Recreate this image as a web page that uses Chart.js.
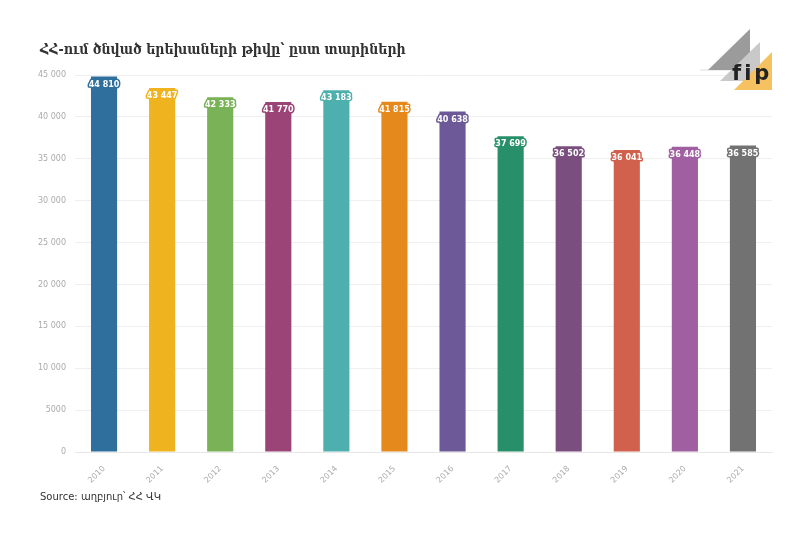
<!DOCTYPE html>
<html>
<head>
<meta charset="utf-8">
<script src="https://cdn.jsdelivr.net/npm/chart.js@4/dist/chart.umd.min.js"></script>
<style>
  html, body { margin: 0; padding: 0; background: #fff; }
  #wrap { position: absolute; left: 0; top: 0; width: 800px; height: 541px; }
  #title { position: absolute; left: 40px; top: 41px; font: bold 14px "DejaVu Serif Condensed", "DejaVu Serif", serif; color: #333; }
  #source { position: absolute; left: 40px; top: 491px; font: 10px "DejaVu Sans", sans-serif; color: #333; }
  #logo { position: absolute; left: 700px; top: 24px; }
</style>
</head>
<body>
<div id="wrap"><canvas id="chart"></canvas></div>
<div id="title">ՀՀ-ում ծնված երեխաների թիվը՝ ըստ տարիների</div>
<div id="source">Source: աղբյուր՝ ՀՀ ՎԿ</div>
<svg id="logo" width="80" height="70">
  <line x1="0" y1="46" x2="30" y2="46" stroke="#ddd" stroke-width="1"/>
  <polygon points="8,46 50,5 50,46" fill="#9b9b9b"/>
  <polygon points="20,57 60,18 60,57" fill="#c9c9c9"/>
  <polygon points="34,66 72,28 72,66" fill="#f6c160"/>
  <text x="32" y="56" font-family="DejaVu Sans" font-weight="bold" font-size="21" letter-spacing="3" fill="#222">fip</text>
</svg>
<script>
const years = ["2010", "2011", "2012", "2013", "2014", "2015", "2016", "2017", "2018", "2019", "2020", "2021"];
const births = [44810, 43447, 42333, 41770, 43183, 41815, 40638, 37699, 36502, 36041, 36448, 36585];
const barColors = ["#2f6f9d", "#efb320", "#79b257", "#9b4477", "#4eb0ae", "#e5891d", "#6d5898", "#27906a", "#7a4f7f", "#d1604c", "#a05fa1", "#727272"];

function fmt(v) {
    if (v < 10000) return String(v);
    return String(v).replace(/\B(?=(\d{3})+(?!\d))/g, " ");
}

const valueLabels = {
    id: "valueLabels",
    afterDatasetsDraw(chart) {
        const ctx = chart.ctx;
        const meta = chart.getDatasetMeta(0);
        ctx.save();
        ctx.font = "bold 8px 'DejaVu Sans', sans-serif";
        ctx.textAlign = "center";
        ctx.textBaseline = "middle";
        ctx.lineJoin = "round";
        meta.data.forEach((bar, i) => {
            const txt = fmt(births[i]);
            const y = bar.y + 8;
            ctx.lineWidth = 3;
            ctx.strokeStyle = barColors[i];
            ctx.strokeText(txt, bar.x, y);
            ctx.fillStyle = "#fff";
            ctx.fillText(txt, bar.x, y);
        });
        ctx.restore();
    }
};

new Chart(document.getElementById("chart"), {
    type: "bar",
    data: {
        labels: years,
        datasets: [{
            data: births,
            backgroundColor: barColors,
            borderWidth: 0,
            barPercentage: 0.45,
            categoryPercentage: 1
        }]
    },
    options: {
        responsive: true,
        maintainAspectRatio: false,
        animation: false,
        layout: { padding: { top: 75, right: 28, left: 0, bottom: 0 } },
        plugins: { legend: { display: false }, tooltip: { enabled: false } },
        scales: {
            x: {
                grid: { display: false },
                border: { color: "#e6e6e6" },
                ticks: {
                    color: "#aaa",
                    font: { size: 8, family: "DejaVu Sans" },
                    minRotation: 45,
                    maxRotation: 45,
                    padding: 4
                },
                afterFit(scale) { scale.height = 89; }
            },
            y: {
                min: 0,
                max: 45000,
                border: { display: false },
                grid: { color: "#efefef", drawTicks: false },
                ticks: {
                    stepSize: 5000,
                    color: "#aaa",
                    font: { size: 8, family: "DejaVu Sans" },
                    padding: 9,
                    callback: v => fmt(v)
                },
                afterFit(scale) { scale.width = 75; }
            }
        }
    },
    plugins: [valueLabels]
});
</script>
</body>
</html>
